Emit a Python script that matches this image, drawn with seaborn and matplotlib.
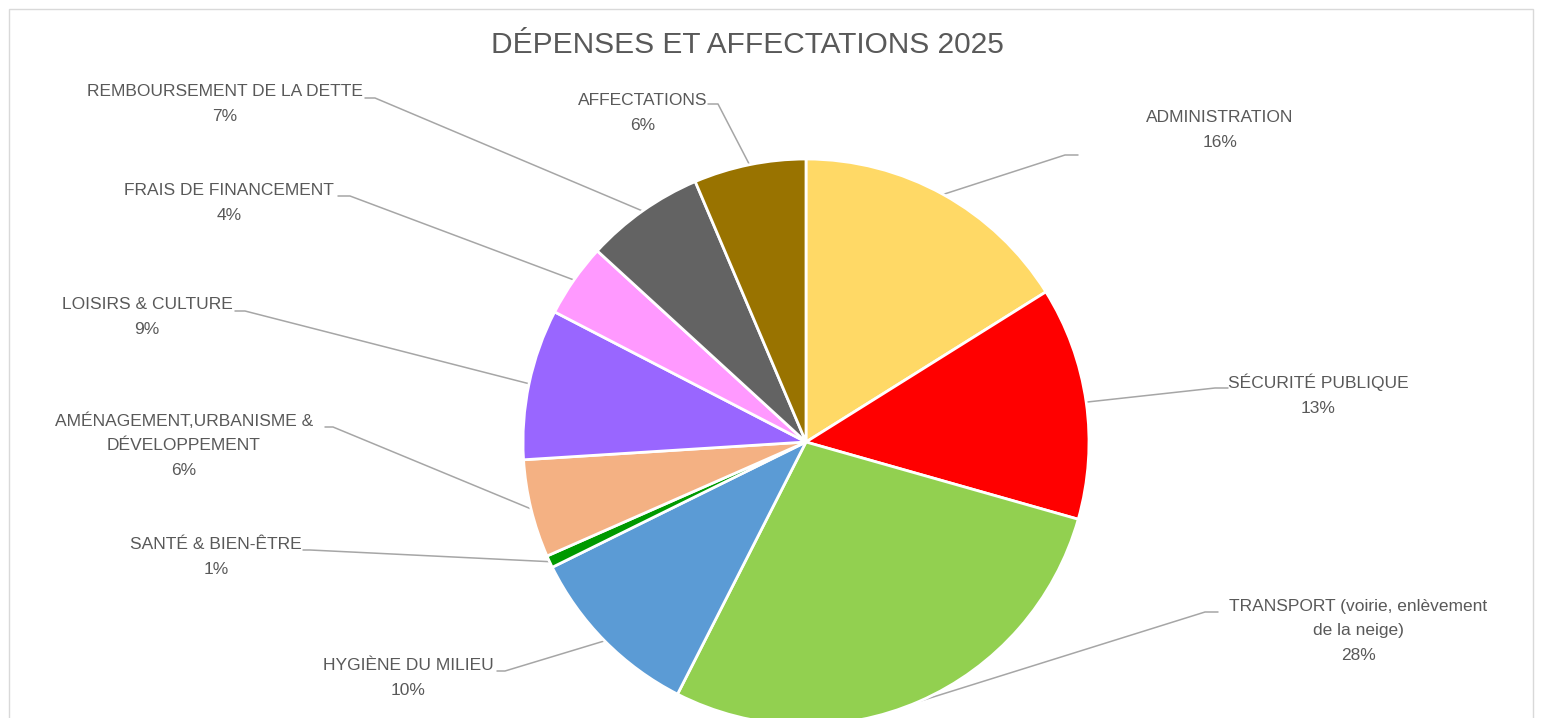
import numpy as np
import matplotlib
matplotlib.use("Agg")
import matplotlib.pyplot as plt
import seaborn as sns
from matplotlib.patches import Rectangle

# Données (en % du budget)
categories = [
    "ADMINISTRATION",
    "SÉCURITÉ PUBLIQUE",
    "TRANSPORT (voirie, enlèvement\nde la neige)",
    "HYGIÈNE DU MILIEU",
    "SANTÉ & BIEN-ÊTRE",
    "AMÉNAGEMENT,URBANISME &\nDÉVELOPPEMENT",
    "LOISIRS & CULTURE",
    "FRAIS DE FINANCEMENT",
    "REMBOURSEMENT DE LA DETTE",
    "AFFECTATIONS",
]
valeurs = [16.1, 13.3, 28.1, 10.2, 0.7, 5.6, 8.6, 4.2, 6.8, 6.4]
couleurs = ["#FFD966", "#FF0000", "#92D050", "#5B9BD5", "#009900",
            "#F4B183", "#9966FF", "#FF99FF", "#636363", "#997300"]

# Position des étiquettes (pixels, depuis le haut) et coude des lignes de rappel
pos_texte = [(1220, 130), (1318, 395), (1358, 631), (408, 678), (216, 557),
             (184, 445), (147, 317), (229, 203), (225, 104), (643, 113)]
coudes = [((1078, 155), (1065, 155)), ((1228, 388), (1215, 388)),
          ((1218, 612), (1205, 612)), ((497, 671), (505, 671)),
          ((303, 550), (310, 550)), ((325, 427), (333, 427)),
          ((235, 311), (245, 311)), ((338, 196), (350, 196)),
          ((365, 98), (375, 98)), ((708, 104), (718, 104))]

W, H = 1544, 718
sns.set_theme(style="white")
plt.rcParams['font.family'] = ['Liberation Sans', 'DejaVu Sans']

fig = plt.figure(figsize=(W / 100, H / 100), dpi=100)
ax = fig.add_axes([0, 0, 1, 1])

centre = (806, H - 442)
rayon = 283
wedges, _ = ax.pie(valeurs, colors=couleurs, startangle=90, counterclock=False,
                   radius=rayon, center=centre, frame=True,
                   wedgeprops=dict(edgecolor="white", linewidth=2))

gris_texte = "#595959"
for w, lab, v, (tx, ty), (p0, p1) in zip(wedges, categories, valeurs, pos_texte, coudes):
    ang = np.deg2rad((w.theta1 + w.theta2) / 2)
    ex = centre[0] + rayon * np.cos(ang)
    ey = centre[1] + rayon * np.sin(ang)
    ax.plot([p0[0], p1[0], ex], [H - p0[1], H - p1[1], ey],
            color="#A6A6A6", lw=1.1, zorder=0)
    ax.text(tx, H - ty, f"{lab}\n{v:.0f}%", ha="center", va="center",
            fontsize=12.5, color=gris_texte, linespacing=1.8)

ax.text(747, H - 45, "DÉPENSES ET AFFECTATIONS 2025", ha="center", va="center",
        fontsize=21.5, color=gris_texte)

ax.add_patch(Rectangle((8.5, -10), 1524, H - 8.5 + 10, fill=False,
                       edgecolor="#D9D9D9", lw=1, zorder=5))

ax.set_xlim(0, W)
ax.set_ylim(0, H)
ax.set_aspect("equal")
ax.axis("off")

fig.savefig("out.png", dpi=100)
